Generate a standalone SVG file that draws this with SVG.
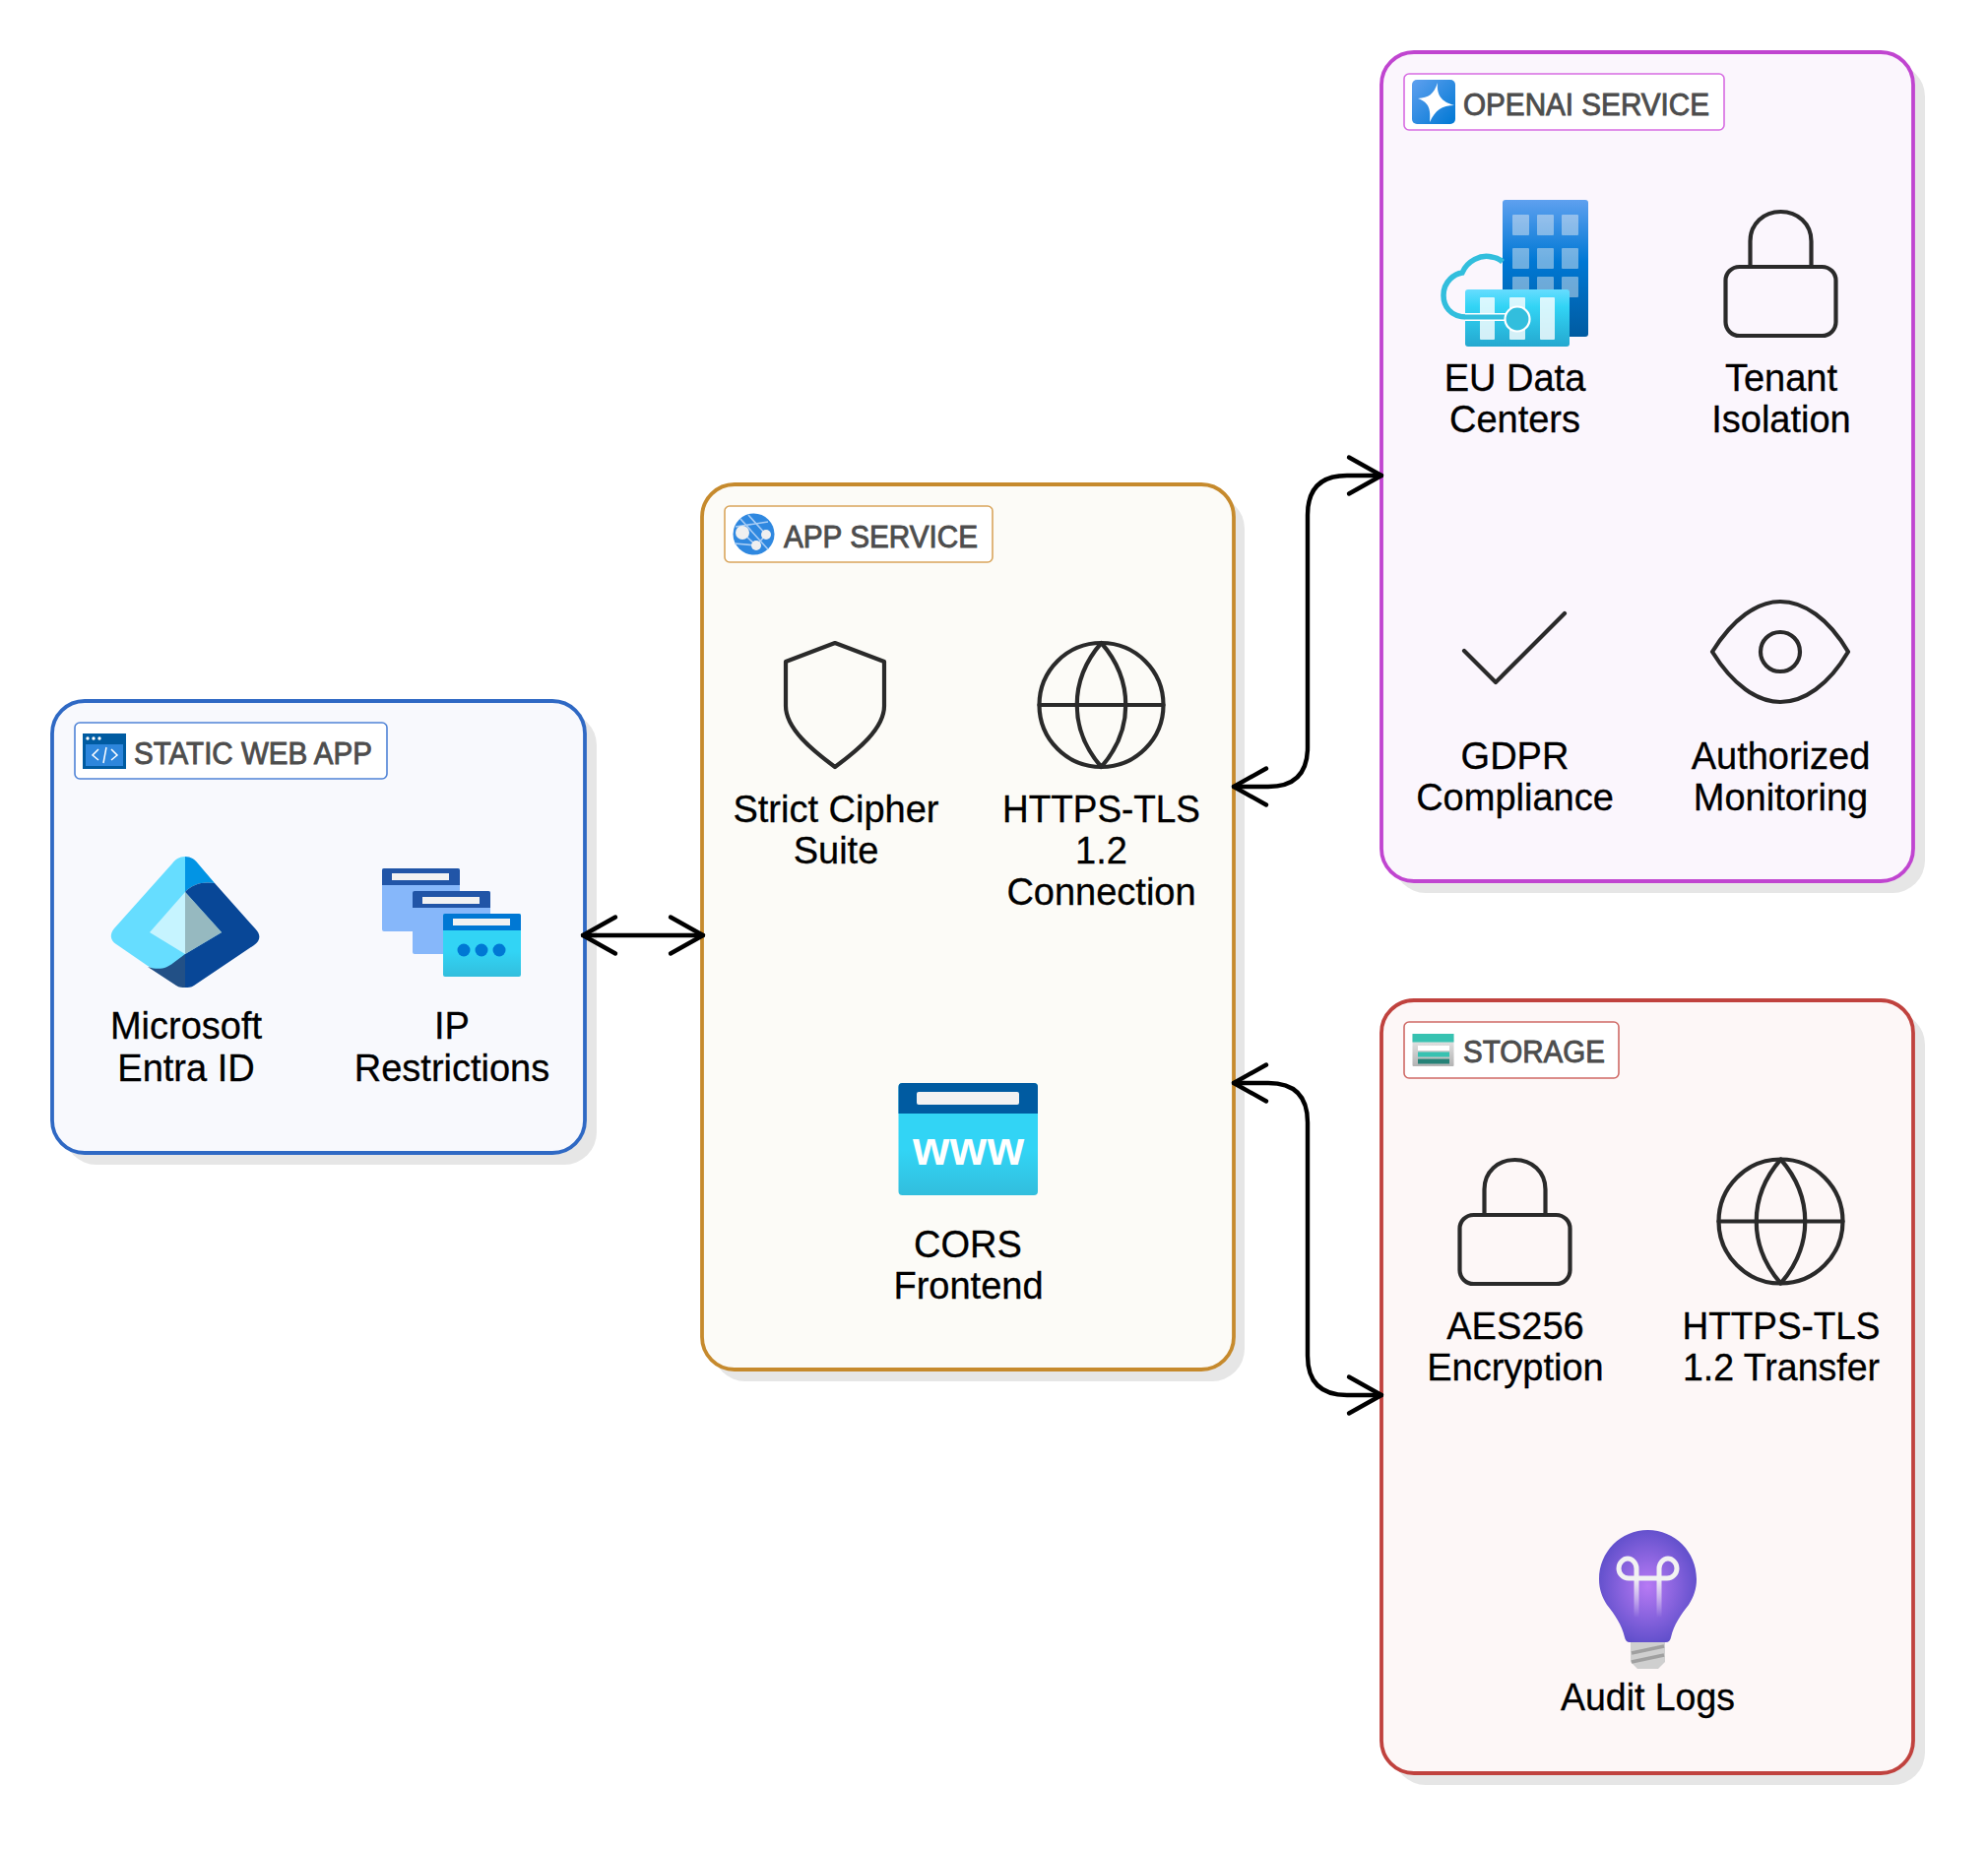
<svg xmlns="http://www.w3.org/2000/svg" width="2019" height="1878" viewBox="0 0 2019 1878">
<style>
.shadow{fill:#e6e6e6}
.box{stroke-width:3.8}
.lab{fill:#fff;stroke-width:1.6}
.title{font-family:"Liberation Sans",Arial,sans-serif;font-size:31px;fill:#4d4d4d;stroke:#4d4d4d;stroke-width:.9}
.t{font-family:"Liberation Sans",Arial,sans-serif;font-size:38px;fill:#000;stroke:#000;stroke-width:.3;text-anchor:middle}
.ic{fill:none;stroke:#2a2a2a;stroke-width:4.2;stroke-linejoin:round;stroke-linecap:round}
.conn{fill:none;stroke:#000;stroke-width:4.4;stroke-linecap:round;marker-start:url(#openS);marker-end:url(#openE)}
</style>
<defs>
<marker id="openE" markerUnits="userSpaceOnUse" viewBox="-40 -24 48 48" refX="0" refY="0" markerWidth="48" markerHeight="48" orient="auto">
<path d="M-33 -18.5L0 0L-33 18.5" fill="none" stroke="#000" stroke-width="4.4" stroke-linecap="round" stroke-linejoin="round"/>
</marker>
<marker id="openS" markerUnits="userSpaceOnUse" viewBox="-8 -24 48 48" refX="0" refY="0" markerWidth="48" markerHeight="48" orient="auto">
<path d="M33 -18.5L0 0L33 18.5" fill="none" stroke="#000" stroke-width="4.4" stroke-linecap="round" stroke-linejoin="round"/>
</marker>
<g id="lock"><rect x="-56" y="57" width="112" height="70" rx="14" class="ic" fill="none"/><path class="ic" d="M-31 57V31C-31 13 -17 1 0 1S31 13 31 31V57"/></g>
<g id="globe"><circle r="63" class="ic"/><path class="ic" d="M-63 0H63M0 -63C-33 -25 -33 25 0 63C33 25 33 -25 0 -63Z"/></g>
<linearGradient id="cy" x1="0" y1="0" x2="0" y2="1"><stop offset="0" stop-color="#32d4f5"/><stop offset=".6" stop-color="#32d4f5"/><stop offset="1" stop-color="#32bedd"/></linearGradient>
<linearGradient id="bld" x1="0" y1="0" x2="0" y2="1"><stop offset="0" stop-color="#5ea0ef"/><stop offset=".45" stop-color="#0078d4"/><stop offset="1" stop-color="#005ba1"/></linearGradient>
<linearGradient id="fr" x1="0" y1="0" x2="0" y2="1"><stop offset="0" stop-color="#6df"/><stop offset=".3" stop-color="#32d4f5"/><stop offset="1" stop-color="#24a8cf"/></linearGradient>
<linearGradient id="blue" x1="0" y1="0" x2="1" y2="1"><stop offset="0" stop-color="#5ea0ef"/><stop offset="1" stop-color="#0078d4"/></linearGradient>
<linearGradient id="gray" x1="0" y1="0" x2="0" y2="1"><stop offset="0" stop-color="#eee"/><stop offset="1" stop-color="#b3b3b3"/></linearGradient>
<linearGradient id="fade" x1="0" y1="0" x2="0" y2="1"><stop offset="0" stop-color="#f2f2f2"/><stop offset="1" stop-color="#f2f2f2" stop-opacity="0"/></linearGradient>
<radialGradient id="bulb" cx=".5" cy=".5" r=".55"><stop offset="0" stop-color="#b77af4"/><stop offset="1" stop-color="#5c4dc9"/></radialGradient>
</defs>

<g id="static-web-app">
<rect class="shadow" x="65" y="724" width="541" height="459" rx="33"/>
<rect class="box" x="53" y="712" width="541" height="459" rx="33" fill="#f8f9fd" stroke="#2f69c4"/>
<rect class="lab" x="76" y="734" width="317" height="57" rx="5" stroke="#4f83d6"/>
<rect x="84" y="745" width="44" height="36" fill="#005ba1"/>
<rect x="87" y="756" width="38" height="22" fill="#2d86dc"/>
<g fill="#fff"><circle cx="89" cy="750" r="1.7"/><circle cx="95" cy="750" r="1.7"/><circle cx="101" cy="750" r="1.7"/></g>
<path d="M100 761L94 767L100 772M113 761L119 767L113 772M108 759L105 775" fill="none" stroke="#fff" stroke-width="1.5"/>
<text class="title" x="136" y="776" textLength="242" lengthAdjust="spacingAndGlyphs">STATIC WEB APP</text>
</g>
<g id="entra-id">
<path d="M188 870C182 870 178 873 175 877L116 943C111 949 112 955 118 959L150 981L188 1003V906L225 947L188 969Z" fill="#66ddff"/>
<path d="M188 870C194 870 198 873 201 877L218 897C206 895 195 898 188 906Z" fill="#0294e4"/>
<path d="M188 906C195 898 206 895 218 897L259 943C265 949 265 955 258 960L197 1001C194 1003 191 1003 188 1003V969L225 947Z" fill="#084797"/>
<path d="M150 982C162 986 170 983 176 978L188 969V1003C185 1003 182 1003 179 1001Z" fill="#225086"/>
<path d="M188 906L152 947L188 969Z" fill="#c6f4ff"/>
<path d="M188 906L225 947L188 969Z" fill="#96b9c0"/>
<text class="t" x="189" y="1055">Microsoft</text>
<text class="t" x="189" y="1097.500">Entra ID</text>
</g>
<g id="ip-restrictions">
<rect x="388" y="882" width="79" height="64" rx="2" fill="#86b7fa"/><path d="M388 899V884Q388 882 390 882H465Q467 882 467 884V899Z" fill="#2155a7"/><rect x="398" y="887" width="58" height="7" fill="#f2f2f2"/>
<rect x="419" y="905" width="79" height="64" rx="2" fill="#86b7fa"/><path d="M419 922V907Q419 905 421 905H496Q498 905 498 907V922Z" fill="#2155a7"/><rect x="429" y="911" width="58" height="7" fill="#f2f2f2"/>
<rect x="450" y="928" width="79" height="64" rx="2" fill="url(#cy)"/><path d="M450 945V930Q450 928 452 928H527Q529 928 529 930V945Z" fill="#0078d4"/><rect x="460" y="933" width="58" height="7" fill="#f2f2f2"/>
<g fill="#0078d4"><circle cx="471" cy="965" r="6.5"/><circle cx="489" cy="965" r="6.5"/><circle cx="507" cy="965" r="6.5"/></g>
<text class="t" x="459" y="1055">IP</text>
<text class="t" x="459" y="1097.500">Restrictions</text>
</g>

<g id="app-service">
<rect class="shadow" x="724" y="504" width="540" height="899" rx="33"/>
<rect class="box" x="713" y="492" width="540" height="899" rx="33" fill="#fcfbf7" stroke="#c68a2d"/>
<rect class="lab" x="736" y="514" width="272" height="57" rx="5" stroke="#d9a55c"/>
<circle cx="765.500" cy="542.500" r="21" fill="#2f88e0"/>
<path d="M752 527L780 558M747 535L780 530M754 541L768 554L778 543L760 523M746 552L768 554" stroke="#a8cdf5" stroke-width="1.6" fill="none"/>
<g fill="#f0f0f0"><circle cx="754" cy="541" r="7"/><circle cx="778" cy="543" r="5"/><circle cx="768" cy="554" r="5"/></g>
<text class="title" x="796" y="556" textLength="197" lengthAdjust="spacingAndGlyphs">APP SERVICE</text>
</g>
<g id="strict-cipher">
<path class="ic" d="M848 653L798 672V717C798 740 825 762 848 779C871 762 898 740 898 717V672Z"/>
<text class="t" x="849" y="835">Strict Cipher</text>
<text class="t" x="849" y="877">Suite</text>
</g>
<g id="https-connection">
<use href="#globe" transform="translate(1118.500 716)"/>
<text class="t" x="1118.500" y="835" textLength="201" lengthAdjust="spacingAndGlyphs">HTTPS-TLS</text>
<text class="t" x="1118.500" y="877">1.2</text>
<text class="t" x="1118.500" y="919">Connection</text>
</g>
<g id="cors-frontend">
<rect x="912.500" y="1100" width="141.500" height="114" rx="4" fill="url(#cy)"/>
<path d="M912.500 1131V1104Q912.500 1100 916.500 1100H1050Q1054 1100 1054 1104V1131Z" fill="#005ba1"/>
<rect x="931" y="1109" width="104" height="13" rx="2" fill="#f2f2f2"/>
<text x="983.500" y="1183" text-anchor="middle" font-family="Liberation Sans,Arial,sans-serif" font-weight="bold" font-size="48" fill="#fff" textLength="113">www</text>
<text class="t" x="983" y="1276.500">CORS</text>
<text class="t" x="983.500" y="1318.500">Frontend</text>
</g>

<g id="openai-service">
<rect class="shadow" x="1415" y="65" width="540" height="842" rx="33"/>
<rect class="box" x="1403" y="53" width="540" height="842" rx="33" fill="#fbf6fd" stroke="#c045d0"/>
<rect class="lab" x="1426" y="75" width="325" height="57" rx="5" stroke="#d76ce2"/>
<rect x="1434" y="81" width="44" height="45" rx="5" fill="url(#blue)"/>
<path d="M1460 84C1459 96 1463 103 1477 107C1464 107 1458 112 1452 124C1453 112 1452 104 1440 100C1451 99 1456 96 1460 84Z" fill="#fff"/>
<text class="title" x="1486" y="117" textLength="250" lengthAdjust="spacingAndGlyphs">OPENAI SERVICE</text>
</g>
<g id="eu-data-centers">
<rect x="1526" y="203" width="87" height="139" rx="3" fill="url(#bld)"/>
<g fill="#f2f2f2" opacity=".45"><rect x="1536" y="218" width="17" height="21" rx="1"/><rect x="1561" y="218" width="17" height="21" rx="1"/><rect x="1586" y="218" width="17" height="21" rx="1"/><rect x="1536" y="252" width="17" height="21" rx="1"/><rect x="1561" y="252" width="17" height="21" rx="1"/><rect x="1586" y="252" width="17" height="21" rx="1"/><rect x="1536" y="281" width="17" height="21" rx="1"/><rect x="1561" y="281" width="17" height="21" rx="1"/><rect x="1586" y="281" width="17" height="21" rx="1"/></g>
<path d="M1526 266Q1522 262 1515 261C1504 258 1490 265 1485 277C1478 278 1466 285 1466 300C1466 310 1472 322 1490 322" fill="none" stroke="#32bedd" stroke-width="5.500"/>
<rect x="1488" y="294" width="106" height="58" rx="3" fill="url(#fr)"/>
<g fill="#fff" opacity=".8"><rect x="1503" y="302" width="15" height="43" rx="1"/><rect x="1533" y="302" width="16" height="43" rx="1"/><rect x="1564" y="302" width="15" height="43" rx="1"/></g>
<path d="M1488 322H1530" stroke="#fff" stroke-width="8"/>
<path d="M1488 322H1530" stroke="#32bedd" stroke-width="5"/>
<circle cx="1541" cy="324" r="12.500" fill="#32bedd" stroke="#fff" stroke-width="2.200"/>
<text class="t" x="1538.500" y="396.500">EU Data</text>
<text class="t" x="1538.500" y="438.500">Centers</text>
</g>
<g id="tenant-isolation">
<use href="#lock" transform="translate(1808.500 214)"/>
<text class="t" x="1809" y="396.500">Tenant</text>
<text class="t" x="1809" y="438.500">Isolation</text>
</g>
<g id="gdpr">
<path class="ic" d="M1487 661L1519 693L1589 623"/>
<text class="t" x="1538.500" y="781">GDPR</text>
<text class="t" x="1538.500" y="822.500">Compliance</text>
</g>
<g id="authorized-monitoring">
<path class="ic" d="M1739 662C1760 628 1785 611 1808 611C1832 611 1857 628 1877 662C1857 696 1832 713 1808 713C1785 713 1760 696 1739 662Z"/>
<circle class="ic" cx="1808" cy="662" r="20"/>
<text class="t" x="1808.500" y="781">Authorized</text>
<text class="t" x="1808.500" y="822.500">Monitoring</text>
</g>

<g id="storage">
<rect class="shadow" x="1415" y="1028" width="540" height="785" rx="33"/>
<rect class="box" x="1403" y="1016" width="540" height="785" rx="33" fill="#fdf7f7" stroke="#c0423e"/>
<rect class="lab" x="1426" y="1038" width="218" height="57" rx="5" stroke="#cf6a66"/>
<rect x="1434.500" y="1050" width="42" height="33" rx="1" fill="url(#gray)"/>
<rect x="1434.500" y="1050" width="42" height="8.500" fill="#37c2b1"/>
<rect x="1440" y="1062" width="32" height="5" fill="#fff"/>
<rect x="1440" y="1068.500" width="32" height="5" fill="#37c2b1"/>
<rect x="1440" y="1075.500" width="32" height="5" fill="#258277"/>
<text class="title" x="1486" y="1079" textLength="144" lengthAdjust="spacingAndGlyphs">STORAGE</text>
</g>
<g id="aes256">
<use href="#lock" transform="translate(1538.500 1177)"/>
<text class="t" x="1539" y="1359.500">AES256</text>
<text class="t" x="1539" y="1401.500">Encryption</text>
</g>
<g id="https-transfer">
<use href="#globe" transform="translate(1808.500 1240.500)"/>
<text class="t" x="1809" y="1359.500" textLength="201" lengthAdjust="spacingAndGlyphs">HTTPS-TLS</text>
<text class="t" x="1809" y="1401.500" textLength="200" lengthAdjust="spacingAndGlyphs">1.2 Transfer</text>
</g>
<g id="audit-logs">
<path d="M1656 1668H1691V1688L1684 1695H1663L1656 1688Z" fill="#cfcfcf"/>
<path d="M1657 1679L1690 1672M1657 1688L1690 1681" stroke="#a0a0a0" stroke-width="3.500"/>
<path d="M1655 1668Q1651 1668 1650 1663C1647 1650 1640 1640 1632 1630C1627 1622 1624 1614 1624 1604C1624 1576 1646 1554 1673.500 1554C1701 1554 1723 1576 1723 1604C1723 1614 1720 1622 1715 1630C1707 1640 1700 1650 1697 1663Q1696 1668 1692 1668Z" fill="url(#bulb)"/>
<path d="M1662 1603H1685M1662 1603H1654C1648 1603 1644 1598 1644 1593C1644 1587 1649 1583 1653 1583C1658 1583 1662 1588 1662 1593V1603M1685 1603H1693C1699 1603 1703 1598 1703 1593C1703 1587 1698 1583 1694 1583C1689 1583 1685 1588 1685 1593V1603" fill="none" stroke="#f2f2f2" stroke-width="5"/>
<rect x="1659.500" y="1603" width="5" height="40" fill="url(#fade)"/>
<rect x="1682.500" y="1603" width="5" height="40" fill="url(#fade)"/>
<text class="t" x="1673.500" y="1736.500" textLength="177" lengthAdjust="spacingAndGlyphs">Audit Logs</text>
</g>

<g id="connectors">
<path class="conn" d="M592 950H714"/>
<path class="conn" d="M1253 799H1288Q1328 799 1328 759V523Q1328 483 1368 483H1403"/>
<path class="conn" d="M1253 1100H1288Q1328 1100 1328 1140V1377Q1328 1417 1368 1417H1403"/>
</g>
</svg>
